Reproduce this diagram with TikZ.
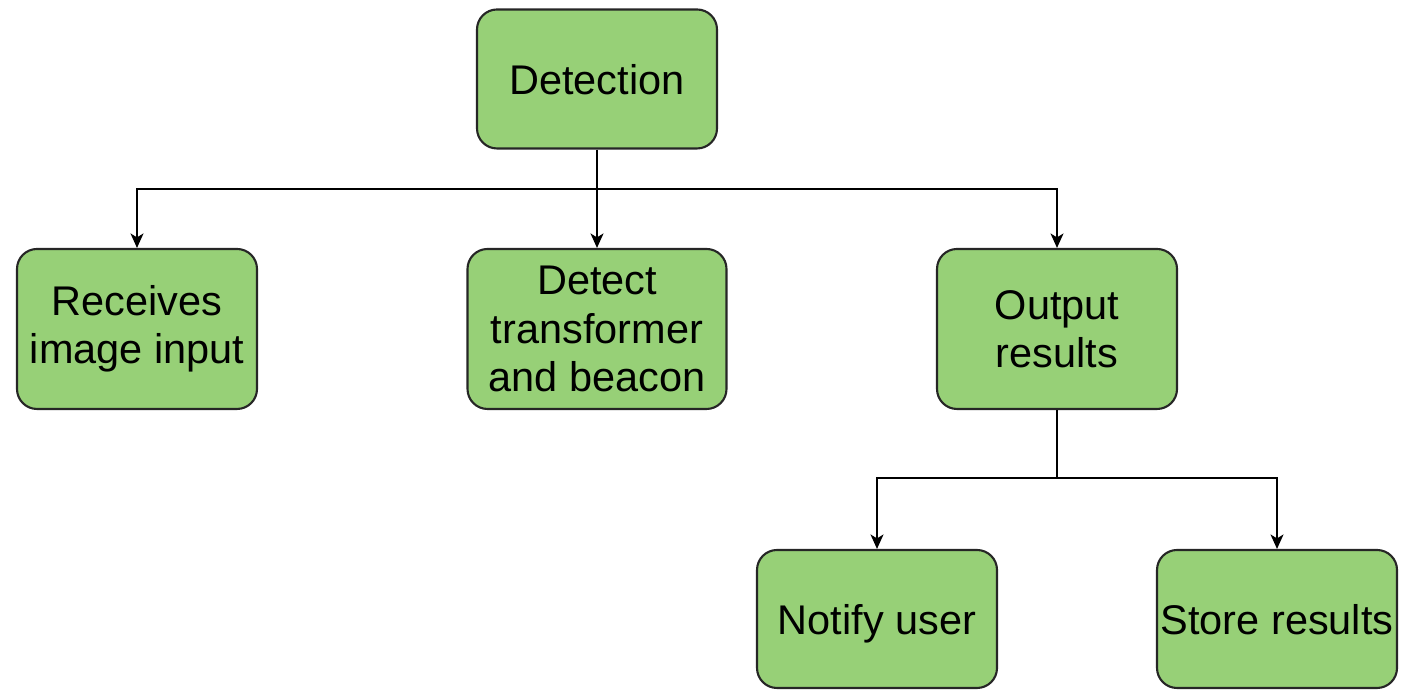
\documentclass[tikz,border=0pt]{standalone}
\usepackage{fontspec}
\setmainfont{Liberation Sans}
\usetikzlibrary{arrows.meta}

\definecolor{boxgreen}{HTML}{97D077}

\begin{document}
\begin{tikzpicture}[line width=0.45pt,
  box/.style={draw=black!85, line width=0.6pt, fill=boxgreen, rounded corners=0.2cm,
    minimum width=2.4cm, align=center, inner sep=0pt,
    font=\fontsize{11.8}{13.8}\selectfont},
  oneline/.style={text height=10pt, text depth=1pt},
  arr/.style={-{Stealth[length=1.45mm, width=1.3mm, inset=0.4mm]}}]

\useasboundingbox (0,0) rectangle (14.12,6.91);

% boxes
\node[box, oneline, minimum height=1.39cm] (detection) at (5.97,6.12) {Detection};
\node[box, minimum height=1.6cm] (receives) at (1.37,3.62) {Receives\\image input};
\node[box, minimum height=1.6cm, minimum width=2.59cm] (detect) at (5.97,3.62) {Detect\\transformer\\and beacon};
\node[box, minimum height=1.6cm] (output) at (10.57,3.62) {Output\\results};
\node[box, oneline, minimum height=1.38cm] (notify) at (8.77,0.72) {Notify user};
\node[box, oneline, minimum height=1.38cm] (store) at (12.77,0.72) {Store results};

% branch points
\coordinate (split1) at (5.97,5.02);
\coordinate (split2) at (10.57,2.13);

% connectors
\draw (detection.south) -- (split1);
\draw[arr] (split1) -| (receives.north);
\draw[arr] (split1) -- (detect.north);
\draw[arr] (split1) -| (output.north);

\draw (output.south) -- (split2);
\draw[arr] (split2) -| (notify.north);
\draw[arr] (split2) -| (store.north);

\end{tikzpicture}
\end{document}
